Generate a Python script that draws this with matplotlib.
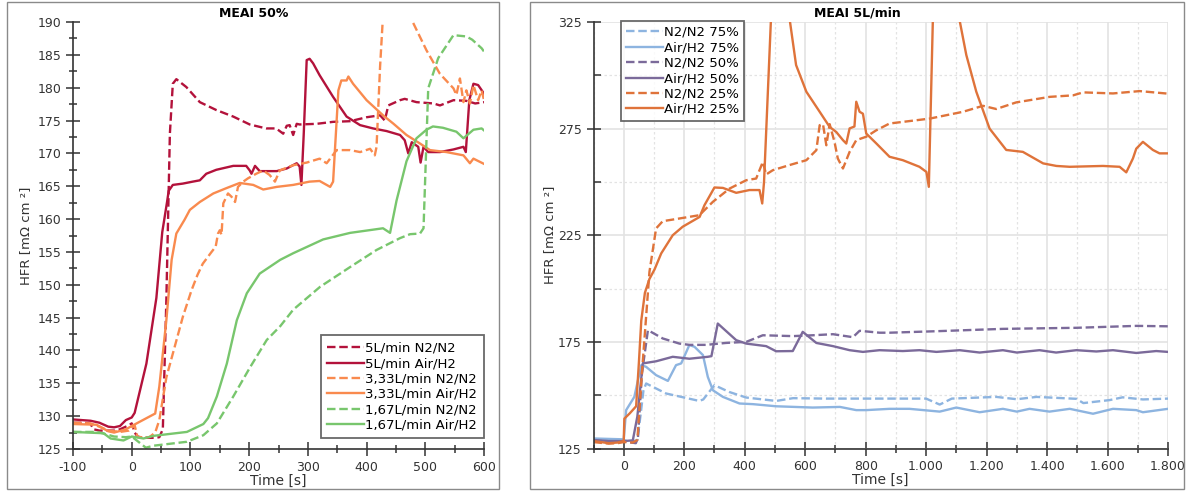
import matplotlib
matplotlib.use("Agg")
import matplotlib.pyplot as plt
from matplotlib.patches import Rectangle
from matplotlib.ticker import MultipleLocator, FixedLocator, FuncFormatter

# ---- left panel: MEAI 50% ----
l5_n2_t = [-100, -80, -70, -65, -55, -40, -30, -20, -5, 0, 5, 10, 20, 30, 40, 47, 53, 59, 65, 70,
           76, 93, 116, 144, 173, 201, 229, 246, 258, 264, 269, 275, 281, 286, 315, 343, 372, 400, 423, 431,
           437, 457, 465, 485, 514, 525, 548, 570, 585, 600]
l5_n2_v = [129.0, 129.0, 128.8, 128.0, 127.8, 127.8, 127.8, 128.0, 128.6, 128.9, 127.5, 126.9, 126.7, 126.7, 126.7, 126.8, 128.0, 147.7, 173.0, 180.6,
           181.3, 180.1, 177.8, 176.6, 175.6, 174.4, 173.8, 173.8, 173.0, 174.2, 174.3, 172.8, 174.5, 174.4, 174.5, 174.8, 174.9, 175.5, 175.8, 175.0,
           177.3, 178.1, 178.3, 177.8, 177.6, 177.3, 178.1, 178.0, 177.6, 177.8]

l5_air_t = [-100, -70, -55, -40, -30, -20, -10, 0, 5, 25, 42, 52, 60, 63, 70, 87, 104, 116, 127, 144,
            173, 195, 201, 204, 210, 218, 247, 264, 281, 286, 289, 293, 298, 303, 309, 320, 343, 366, 389, 411,
            434, 457, 465, 471, 477, 488, 492, 497, 505, 525, 548, 565, 569, 575, 582, 590, 600]
l5_air_v = [129.5, 129.3, 129.0, 128.4, 128.3, 128.5, 129.4, 129.8, 130.5, 138.0, 148.0, 158.0, 162.5, 164.3, 165.2, 165.4, 165.7, 165.9, 166.9, 167.5,
            168.1, 168.1, 167.4, 166.9, 168.1, 167.3, 167.3, 167.7, 168.5, 168.0, 165.2, 173.0, 184.2, 184.4, 183.7, 181.9, 178.6, 175.6, 174.3, 173.8,
            173.4, 172.8, 172.0, 170.0, 171.7, 171.0, 168.6, 171.0, 170.2, 170.2, 170.6, 171.0, 170.2, 178.1, 180.6, 180.4, 179.1]

l3_n2_t = [-100, -70, -55, -40, -20, -5, 5, 10, 30, 40, 47, 59, 73, 87, 102, 112, 121, 136, 143, 147,
           150, 153, 156, 164, 170, 176, 181, 190, 198, 212, 224, 235, 244, 252, 275, 298, 320, 332, 349, 372,
           389, 406, 414, 417, 423, 428, 450, 477, 502, 525, 548, 553, 559, 565, 570, 576, 582, 590, 596, 600]
l3_n2_v = [129.0, 128.9, 128.4, 127.8, 127.6, 127.8, 128.6, 126.8, 126.8, 127.5, 129.4, 135.9, 140.5, 145.1, 149.2, 151.5, 153.2, 155.0, 155.8, 157.8,
           158.3, 157.6, 162.4, 163.9, 163.4, 162.6, 164.9, 165.7, 166.2, 166.9, 167.4, 166.7, 165.7, 167.4, 168.2, 168.6, 169.2, 168.5, 170.5, 170.5,
           170.2, 170.7, 169.7, 171.0, 183.2, 191.0, 205.0, 190.3, 185.7, 182.1, 179.9, 178.9, 181.4, 177.8, 179.6, 177.6, 180.4, 178.1, 179.6, 178.1]

l3_air_t = [-100, -60, -50, -40, -30, -10, 0, 40, 47, 59, 68, 76, 90, 99, 116, 139, 161, 184, 207, 224,
            247, 275, 303, 320, 338, 343, 352, 357, 366, 369, 377, 400, 428, 446, 468, 491, 508, 536, 565, 576,
            582, 600]
l3_air_v = [128.8, 128.7, 128.2, 127.7, 127.5, 128.0, 128.5, 130.4, 134.5, 144.6, 153.8, 157.8, 159.9, 161.4, 162.6, 163.9, 164.7, 165.5, 165.2, 164.5,
            164.9, 165.2, 165.7, 165.8, 164.9, 165.7, 179.6, 181.1, 181.1, 181.7, 180.6, 178.1, 175.8, 174.5, 172.8, 171.5, 170.5, 170.2, 169.7, 168.5,
            169.2, 168.4]

l1_n2_t = [-100, -60, -50, -30, -10, 0, 10, 24, 37, 94, 122, 145, 173, 202, 230, 253, 275, 321, 372, 417,
           457, 474, 491, 497, 505, 522, 548, 570, 580, 596, 600]
l1_n2_v = [127.6, 127.6, 127.4, 126.9, 126.8, 126.9, 126.2, 125.2, 125.5, 126.1, 127.1, 128.9, 133.0, 137.5, 141.6, 143.7, 146.2, 149.7, 152.7, 155.3,
           157.1, 157.7, 157.8, 158.6, 179.9, 184.5, 188.0, 187.8, 187.3, 186.0, 185.5]

l1_air_t = [-100, -48, -36, -14, 0, 20, 37, 94, 122, 130, 145, 162, 179, 196, 218, 253, 275, 326, 372, 428,
            440, 451, 468, 485, 502, 513, 530, 553, 565, 582, 596, 600]
l1_air_v = [127.6, 127.4, 126.6, 126.3, 126.9, 126.6, 127.0, 127.6, 128.8, 129.7, 133.0, 138.0, 144.6, 148.7, 151.7, 153.8, 154.8, 156.9, 157.9, 158.6,
            157.9, 162.8, 168.8, 172.3, 173.6, 174.1, 173.9, 173.3, 172.3, 173.6, 173.8, 173.5]

# ---- right panel: MEAI 5L/min ----
r75_n2_t = [-100, -50, -20, 0, 30, 45, 55, 65, 74, 140, 250, 263, 300, 349, 405, 504, 560, 670, 813, 1000,
            1045, 1085, 1232, 1300, 1365, 1497, 1520, 1607, 1650, 1717, 1800]
r75_n2_v = [129.2, 128.5, 128.5, 128.8, 128.3, 129.0, 140.0, 152.0, 155.5, 150.8, 147.3, 148.0, 154.7, 151.5, 148.9, 147.3, 148.6, 148.4, 148.4, 148.4,
            145.6, 148.4, 149.2, 148.1, 149.2, 148.3, 146.3, 147.7, 149.0, 148.0, 148.4]

r75_air_t = [-100, 0, 8, 35, 58, 74, 107, 146, 173, 190, 217, 234, 262, 278, 295, 328, 383, 427, 504, 625,
             715, 769, 802, 879, 945, 1045, 1100, 1177, 1254, 1300, 1342, 1408, 1475, 1552, 1618, 1695, 1717, 1800]
r75_air_v = [129.7, 129.3, 143.0, 149.2, 164.1, 163.3, 159.4, 156.7, 164.1, 164.9, 173.5, 172.7, 168.8, 158.6, 152.3, 149.2, 146.1, 145.8, 144.8, 144.2,
             144.5, 143.0, 143.0, 143.6, 143.6, 142.3, 144.2, 142.0, 143.6, 142.3, 143.6, 142.3, 143.6, 141.3, 143.6, 143.0, 142.0, 143.6]

r50_n2_t = [-100, -50, 0, 40, 47, 60, 80, 129, 184, 217, 272, 338, 405, 460, 559, 625, 692, 758, 780, 846,
            879, 1034, 1254, 1497, 1695, 1800]
r50_n2_v = [128.5, 128.0, 128.3, 127.5, 130.0, 160.0, 180.5, 176.6, 174.2, 173.6, 173.6, 174.5, 175.0, 178.1, 177.7, 178.1, 178.6, 177.2, 180.2, 179.3,
            179.3, 180.0, 181.1, 181.6, 182.5, 182.3]

r50_air_t = [-100, -50, 0, 30, 45, 63, 107, 162, 217, 278, 290, 311, 372, 405, 471, 504, 559, 592, 637, 692,
             747, 791, 846, 923, 978, 1034, 1111, 1177, 1254, 1300, 1375, 1430, 1497, 1563, 1618, 1695, 1761, 1800]
r50_air_v = [129.0, 128.5, 128.5, 128.8, 140.0, 164.9, 165.9, 168.0, 167.1, 168.0, 168.3, 183.6, 175.8, 174.2, 173.0, 170.6, 170.7, 179.7, 174.5, 173.0,
             171.1, 170.3, 171.1, 170.7, 171.1, 170.3, 171.1, 170.0, 171.1, 170.0, 171.1, 170.0, 171.1, 170.5, 171.1, 169.8, 170.7, 170.3]

r25_n2_t = [-100, -50, -20, 0, 30, 45, 60, 85, 107, 129, 173, 250, 295, 350, 405, 438, 460, 471, 493, 548,
            604, 637, 648, 659, 670, 681, 697, 708, 725, 747, 769, 802, 835, 868, 879, 1012, 1122, 1188, 1232, 1298,
            1409, 1486, 1519, 1618, 1706, 1800]
r25_n2_v = [128.0, 127.3, 127.5, 128.0, 127.8, 129.0, 160.0, 207.8, 228.2, 231.6, 232.6, 234.4, 240.7, 246.9, 250.8, 251.6, 259.4, 253.5, 255.5, 257.9,
            260.2, 264.9, 276.6, 277.1, 267.2, 277.1, 268.8, 261.0, 256.3, 264.1, 269.6, 271.2, 274.2, 276.6, 277.4, 279.7, 282.9, 285.7, 284.2, 287.3,
            289.9, 290.6, 292.0, 291.5, 292.6, 291.4]

r25_air_t = [-100, -50, -20, 0, 2, 20, 41, 50, 58, 70, 85, 102, 124, 162, 195, 251, 267, 300, 328, 372,
             416, 449, 458, 464, 488, 515, 545, 570, 604, 648, 681, 703, 725, 736, 747, 763, 769, 780, 791, 802,
             835, 879, 923, 978, 1001, 1009, 1023, 1060, 1105, 1133, 1166, 1210, 1265, 1320, 1387, 1431, 1475, 1585, 1640, 1662,
             1684, 1695, 1717, 1750, 1772, 1800]
r25_air_v = [128.5, 127.5, 127.8, 128.5, 139.0, 141.5, 144.8, 165.0, 185.0, 198.0, 204.5, 209.0, 216.5, 225.0, 229.0, 233.6, 239.1, 247.4, 247.2, 244.9,
             246.2, 246.2, 239.9, 250.0, 330.0, 480.0, 330.0, 304.8, 292.3, 282.9, 275.8, 273.4, 269.6, 268.0, 275.1, 276.0, 287.6, 282.9, 282.0, 272.7,
             268.1, 261.8, 260.2, 257.1, 254.7, 247.7, 330.0, 480.0, 330.0, 309.5, 292.3, 275.0, 265.0, 264.1, 258.7, 257.5, 257.1, 257.5, 257.1, 254.5,
             261.0, 265.6, 268.8, 265.0, 263.4, 263.4]

r_yticks = [125, 175, 225, 275, 325]
r_yminor = [150, 200, 250, 300]

red, orange, green = "#B3123B", "#F98A4E", "#78C66D"
blue, purple, rorange = "#8DB4E0", "#7B6A9A", "#DF733A"
dash = (3.6, 1.6)
lw = 1.7

plt.rcParams["font.family"] = "DejaVu Sans"
plt.rcParams["axes.unicode_minus"] = False
fig = plt.figure(figsize=(11.87, 4.93), dpi=100)

# panel frames
for x0, x1 in [(7, 499), (530, 1184)]:
    fig.patches.append(Rectangle((x0 / 1187, 4 / 493), (x1 - x0) / 1187, 487 / 493,
                                 transform=fig.transFigure, fill=False, ec="#8a8a8a", lw=1.0))


def style_axes(ax):
    for s in ["top", "right"]:
        ax.spines[s].set_visible(False)
    for s in ["left", "bottom"]:
        ax.spines[s].set_color("#333333")
        ax.spines[s].set_linewidth(1.2)
    ax.tick_params(which="major", direction="inout", length=10, width=1.1, color="#333333",
                   labelsize=9, labelcolor="#333333")
    ax.tick_params(which="minor", direction="inout", length=6, width=1.1, color="#333333")


# left
ax1 = fig.add_axes([73 / 1187, 1 - 449 / 493, 411 / 1187, 427 / 493])
ax1.plot(l5_n2_t, l5_n2_v, color=red, lw=lw, dashes=dash, label="5L/min N2/N2")
ax1.plot(l5_air_t, l5_air_v, color=red, lw=lw, label="5L/min Air/H2")
ax1.plot(l3_n2_t, l3_n2_v, color=orange, lw=lw, dashes=dash, label="3,33L/min N2/N2")
ax1.plot(l3_air_t, l3_air_v, color=orange, lw=lw, label="3,33L/min Air/H2")
ax1.plot(l1_n2_t, l1_n2_v, color=green, lw=lw, dashes=dash, label="1,67L/min N2/N2")
ax1.plot(l1_air_t, l1_air_v, color=green, lw=lw, label="1,67L/min Air/H2")
ax1.set_xlim(-100, 600)
ax1.set_ylim(125, 190)
ax1.xaxis.set_major_locator(MultipleLocator(100))
ax1.xaxis.set_minor_locator(MultipleLocator(50))
ax1.yaxis.set_major_locator(MultipleLocator(5))
ax1.yaxis.set_minor_locator(MultipleLocator(2.5))
style_axes(ax1)
ax1.set_xlabel("Time [s]", fontsize=10, color="#333333", labelpad=0)
ax1.set_ylabel("HFR [mΩ cm ²]", fontsize=9.5, color="#333333", labelpad=4)
ax1.text(0.44, 1.005, "MEAI 50%", transform=ax1.transAxes, ha="center", va="bottom",
         fontsize=9, fontweight="bold")
leg1 = ax1.legend(loc="lower right", bbox_to_anchor=(1.0, 0.025), fontsize=9.5, frameon=True,
                  fancybox=False, edgecolor="#444444", handlelength=2.8, handletextpad=0.1,
                  labelspacing=0.18, borderpad=0.5, borderaxespad=0)
leg1.get_frame().set_linewidth(1.3)

# right
ax2 = fig.add_axes([593.5 / 1187, 1 - 448.5 / 493, 574.5 / 1187, 426.5 / 493])
ax2.plot(r75_n2_t, r75_n2_v, color=blue, lw=lw, dashes=dash, label="N2/N2 75%")
ax2.plot(r75_air_t, r75_air_v, color=blue, lw=lw, label="Air/H2 75%")
ax2.plot(r50_n2_t, r50_n2_v, color=purple, lw=lw, dashes=dash, label="N2/N2 50%")
ax2.plot(r50_air_t, r50_air_v, color=purple, lw=lw, label="Air/H2 50%")
ax2.plot(r25_n2_t, r25_n2_v, color=rorange, lw=lw, dashes=dash, label="N2/N2 25%")
ax2.plot(r25_air_t, r25_air_v, color=rorange, lw=lw, label="Air/H2 25%")
ax2.set_xlim(-100, 1800)
ax2.set_ylim(125, 325)
ax2.xaxis.set_major_locator(MultipleLocator(200))
ax2.xaxis.set_minor_locator(MultipleLocator(100))
ax2.yaxis.set_major_locator(FixedLocator(r_yticks))
ax2.yaxis.set_minor_locator(FixedLocator(r_yminor))
ax2.xaxis.set_major_formatter(FuncFormatter(lambda v, p: f"{int(v):,}".replace(",", ".")))
ax2.grid(which="major", color="#e3e3e3", lw=1.2)
ax2.grid(which="minor", color="#e3e3e3", lw=0.9, ls=(0, (2, 2)))
ax2.set_axisbelow(True)
style_axes(ax2)
ax2.tick_params(axis="y", which="minor", direction="in", length=5)
ax2.set_xlabel("Time [s]", fontsize=10, color="#333333", labelpad=0)
ax2.set_ylabel("HFR [mΩ cm ²]", fontsize=9.5, color="#333333", labelpad=1)
ax2.text(0.46, 1.005, "MEAI 5L/min", transform=ax2.transAxes, ha="center", va="bottom",
         fontsize=9, fontweight="bold")
leg2 = ax2.legend(loc="upper left", bbox_to_anchor=(0.047, 1.003), fontsize=9.5, frameon=True,
                  fancybox=False, edgecolor="#444444", handlelength=2.8, handletextpad=0.1,
                  labelspacing=0.18, borderpad=0.4, borderaxespad=0)
leg2.get_frame().set_linewidth(1.3)

fig.savefig("out.png", dpi=100)
